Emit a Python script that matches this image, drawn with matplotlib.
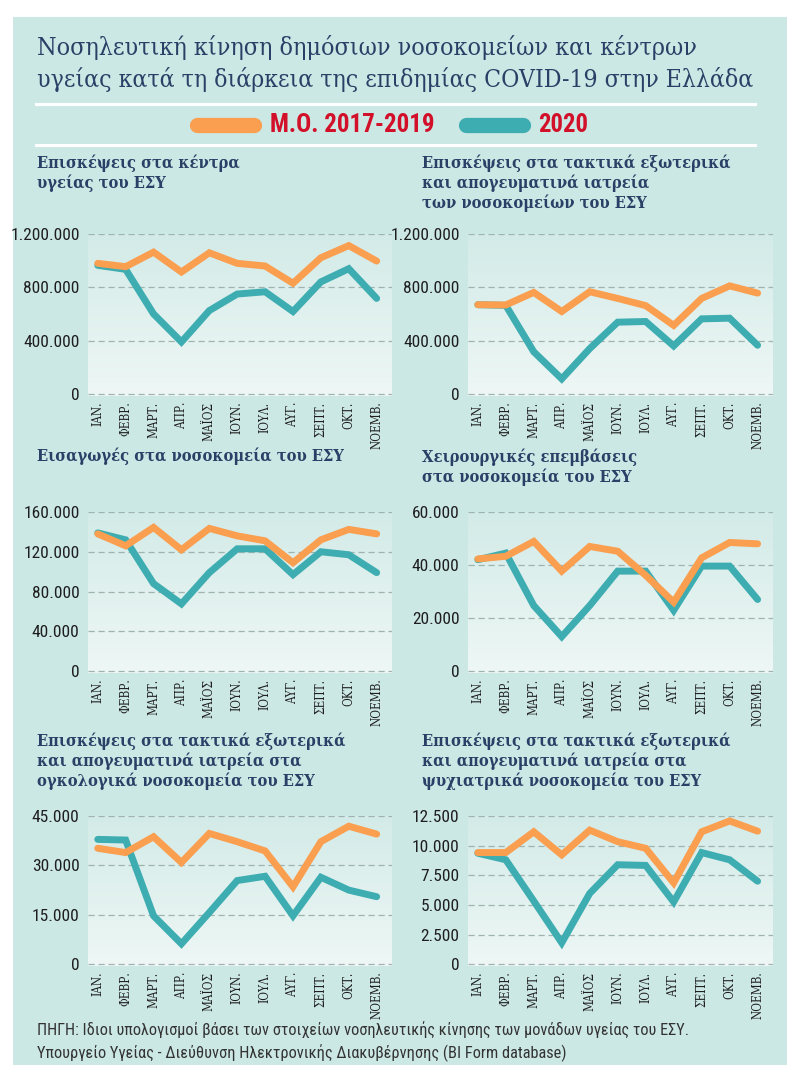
import numpy as np
import matplotlib
matplotlib.use('Agg')
import matplotlib.pyplot as plt
from matplotlib import font_manager as fm
from matplotlib.patches import Rectangle
from matplotlib.colors import LinearSegmentedColormap
from matplotlib.ticker import FuncFormatter

months = ["ΙΑΝ.", "ΦΕΒΡ.", "ΜΑΡΤ.", "ΑΠΡ.", "ΜΑΪΟΣ", "ΙΟΥΝ.", "ΙΟΥΛ.", "ΑΥΓ.", "ΣΕΠΤ.", "ΟΚΤ.", "ΝΟΕΜΒ."]

# Επισκέψεις στα κέντρα υγείας
kentra_mo = [980000, 955000, 1064000, 915000, 1059000, 980000, 960000, 831000, 1022000, 1113000, 997000]
kentra_2020 = [965000, 935000, 601000, 391000, 626000, 750000, 767000, 619000, 841000, 940000, 717000]
# εξωτερικά ιατρεία νοσοκομείων
iatreia_mo = [670000, 668000, 762000, 619000, 767000, 717000, 663000, 515000, 717000, 811000, 757000]
iatreia_2020 = [670000, 665000, 317000, 114000, 341000, 539000, 544000, 361000, 564000, 569000, 366000]
# εισαγωγές
eisagoges_mo = [138000, 126000, 144500, 122000, 143500, 136000, 131000, 109000, 132000, 142500, 138000]
eisagoges_2020 = [139000, 132000, 88000, 67600, 99000, 123000, 123000, 97000, 120000, 117000, 99000]
# χειρουργικές επεμβάσεις
xeir_mo = [42300, 43300, 48900, 37700, 47000, 45200, 36100, 26000, 42700, 48500, 48000]
xeir_2020 = [42000, 44500, 24700, 13000, 24700, 37700, 37700, 22900, 39600, 39600, 27000]
# ογκολογικά
onko_mo = [35200, 33900, 38700, 30900, 39700, 37200, 34400, 23500, 37200, 41900, 39500]
onko_2020 = [37900, 37700, 14700, 6200, 15700, 25400, 26700, 14700, 26400, 22500, 20500]
# ψυχιατρικά
psyx_mo = [9417, 9417, 11167, 9222, 11306, 10333, 9778, 6861, 11167, 12083, 11222]
psyx_2020 = [9361, 8806, 5333, 1806, 5972, 8389, 8333, 5250, 9417, 8806, 7000]

titles = [
    "Επισκέψεις στα κέντρα\nυγείας του ΕΣΥ",
    "Επισκέψεις στα τακτικά εξωτερικά\nκαι απογευματινά ιατρεία\nτων νοσοκομείων του ΕΣΥ",
    "Εισαγωγές στα νοσοκομεία του ΕΣΥ",
    "Χειρουργικές επεμβάσεις\nστα νοσοκομεία του ΕΣΥ",
    "Επισκέψεις στα τακτικά εξωτερικά\nκαι απογευματινά ιατρεία στα\nογκολογικά νοσοκομεία του ΕΣΥ",
    "Επισκέψεις στα τακτικά εξωτερικά\nκαι απογευματινά ιατρεία στα\nψυχιατρικά νοσοκομεία του ΕΣΥ",
]
yticks = [
    [0, 400000, 800000, 1200000],
    [0, 400000, 800000, 1200000],
    [0, 40000, 80000, 120000, 160000],
    [0, 20000, 40000, 60000],
    [0, 15000, 30000, 45000],
    [0, 2500, 5000, 7500, 10000, 12500],
]
series = [(kentra_mo, kentra_2020), (iatreia_mo, iatreia_2020), (eisagoges_mo, eisagoges_2020),
          (xeir_mo, xeir_2020), (onko_mo, onko_2020), (psyx_mo, psyx_2020)]

BG = "#cce8e5"
NAVY = "#2b4066"
ORANGE = "#fa9e4f"
TEAL = "#3eadb1"
RED = "#d2102a"

# font stretti se ci sono
names = {f.name for f in fm.fontManager.ttflist}
narrow = next((n for n in ["Liberation Sans Narrow", "Roboto Condensed", "Open Sans Condensed", "Roboto"]
               if n in names), "DejaVu Sans")
NARROW = [narrow, "DejaVu Sans"]
serif_stretch = "normal"
for f in fm.fontManager.ttflist:
    if f.name == "DejaVu Serif" and f.stretch not in ("normal", 500):
        serif_stretch = f.stretch
        break

W, H = 800, 1080
fig = plt.figure(figsize=(W / 100, H / 100), dpi=100)
fig.patch.set_facecolor("white")
fig.patches.append(Rectangle((13 / W, 1 - 1065 / H), 774 / W, 1048 / H,
                             transform=fig.transFigure, facecolor=BG, edgecolor="none", zorder=-5))
renderer = fig.canvas.get_renderer()


def px(x, y):
    return x / W, 1 - y / H


def fit(t, width):
    # adatta la dimensione del testo alla larghezza in pixel
    w = t.get_window_extent(renderer).width
    t.set_fontsize(t.get_fontsize() * width / w)
    return t


# titolo
fit(fig.text(*px(37, 48), "Νοσηλευτική κίνηση δημόσιων νοσοκομείων και κέντρων",
             family="DejaVu Serif", fontstretch=serif_stretch, fontsize=20, color=NAVY,
             va="center", ha="left"), 658)
fit(fig.text(*px(37, 79), "υγείας κατά τη διάρκεια της επιδημίας COVID-19 στην Ελλάδα",
             family="DejaVu Serif", fontstretch=serif_stretch, fontsize=20, color=NAVY,
             va="center", ha="left"), 716)

# linee bianche e legenda
for yy in (104, 145):
    fig.add_artist(plt.Line2D([36 / W, 755 / W], [1 - yy / H] * 2, color="white", lw=2.2,
                              transform=fig.transFigure))
for x0, x1, c in ((197, 254, ORANGE), (466, 523, TEAL)):
    fig.add_artist(plt.Line2D([x0 / W, x1 / W], [1 - 125 / H] * 2, color=c, lw=11,
                              solid_capstyle="round", transform=fig.transFigure))
fit(fig.text(*px(270, 125), "Μ.Ο. 2017-2019", family=NARROW, fontsize=19, fontweight="bold",
             color=RED, va="center", ha="left"), 165)
fit(fig.text(*px(538, 125), "2020", family=NARROW, fontsize=19, fontweight="bold",
             color=RED, va="center", ha="left"), 50)

# posizione pannelli: (left, right, top, bottom, title_x, title_y)
boxes = [
    (88, 392, 234, 396, 37, 155),
    (468, 773, 234, 396, 422, 155),
    (88, 392, 512, 673, 37, 447),
    (468, 773, 512, 673, 422, 449),
    (88, 392, 816, 966, 37, 733),
    (468, 773, 816, 966, 422, 733),
]

grad = LinearSegmentedColormap.from_list("g", ["#eef7f5", "#d3ebe8"])
fmt = FuncFormatter(lambda v, p: f"{int(v):,}".replace(",", "."))
x = np.arange(len(months))

for i, (l, r, t, b, tx, ty) in enumerate(boxes):
    ymax = yticks[i][-1]
    ax = fig.add_axes([l / W, 1 - b / H, (r - l) / W, (b - t) / H])
    ax.set_facecolor("none")
    ax.imshow(np.linspace(0, 1, 100).reshape(-1, 1), extent=[0, 1, 0, 1], transform=ax.transAxes,
              aspect="auto", cmap=grad, origin="lower", zorder=0)
    for yt in yticks[i]:
        ax.axhline(yt, color="#9fb3b1", lw=0.9, ls=(0, (5, 3)), zorder=1)
    mo, y20 = series[i]
    ax.plot(x, y20, color=TEAL, lw=5, solid_capstyle="round", solid_joinstyle="miter", zorder=3)
    ax.plot(x, mo, color=ORANGE, lw=5, solid_capstyle="round", solid_joinstyle="miter", zorder=4)
    ax.set_xlim(-0.35, 10.55)
    ax.set_ylim(-ymax * 0.012, ymax * 1.0)
    ax.set_yticks(yticks[i])
    ax.yaxis.set_major_formatter(fmt)
    ax.set_xticks(x)
    ax.set_xticklabels(months, rotation=90, family="DejaVu Serif", fontstretch=serif_stretch,
                       fontsize=8.5, color="#1e1e1e")
    for lab in ax.get_yticklabels():
        lab.set_family(NARROW)
        lab.set_fontsize(12.5)
        lab.set_color("#1e1e1e")
    ax.tick_params(length=0, pad=4)
    ax.tick_params(axis="y", pad=6)
    for s in ax.spines.values():
        s.set_visible(False)
    fig.text(*px(tx, ty), titles[i], family="DejaVu Serif", fontstretch=serif_stretch,
             fontweight="bold", fontsize=11.8, color=NAVY, va="top", ha="left", linespacing=1.15)

# fonte
fit(fig.text(*px(37, 1030), "ΠΗΓΗ: Ιδιοι υπολογισμοί βάσει των στοιχείων νοσηλευτικής κίνησης των μονάδων υγείας του ΕΣΥ.",
             family=NARROW, fontsize=12, color="#333333", va="center", ha="left"), 650)
fit(fig.text(*px(37, 1053), "Υπουργείο Υγείας - Διεύθυνση Ηλεκτρονικής Διακυβέρνησης (BI Form database)",
             family=NARROW, fontsize=12, color="#333333", va="center", ha="left"), 530)

fig.savefig("out.png", dpi=100, facecolor=fig.get_facecolor())
